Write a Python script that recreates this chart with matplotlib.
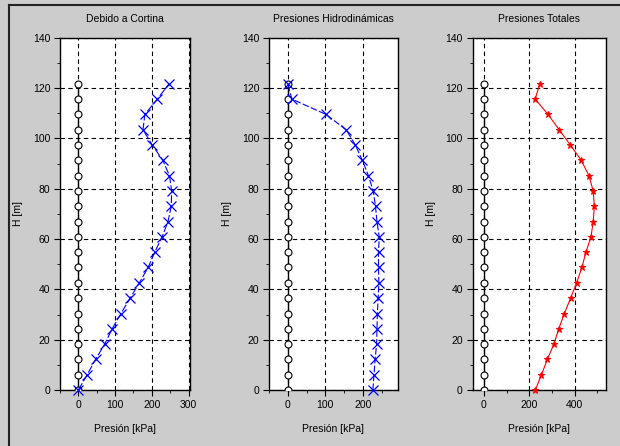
import matplotlib
matplotlib.use("Agg")
import matplotlib.pyplot as plt
from matplotlib.lines import Line2D
from matplotlib.ticker import MultipleLocator

plt.rcParams['font.family'] = ['Liberation Sans', 'DejaVu Sans']

# alturas de los nodos [m]
alturas = [0, 6.1, 12.2, 18.3, 24.3, 30.4, 36.5, 42.6, 48.7, 54.8, 60.8,
           66.9, 73.0, 79.1, 85.2, 91.3, 97.4, 103.4, 109.5, 115.6, 121.7]
# presiones [kPa]
p_cortina = [0, 24, 47, 72, 92, 116, 141, 166, 190, 208, 228,
             244, 253, 254, 248, 230, 201, 176, 181, 215, 247]
p_hidro = [227, 230, 233, 237, 238, 239, 241, 243, 242, 242, 244,
           238, 234, 228, 215, 199, 180, 156, 102, 11, 0]
p_total = [a + b for a, b in zip(p_cortina, p_hidro)]
cortina_x = [0] * len(alturas)

titulos = ["Debido a Cortina", "Presiones Hidrodinámicas", "Presiones Totales"]
xticks = [[0, 100, 200, 300], [0, 100, 200], [0, 200, 400]]
xminor = [50, 50, 100]

fig = plt.figure(figsize=(6.2, 4.46), dpi=100, facecolor='#cccccc')
W, H = 620.0, 446.0

# marco de la figura (solo arriba e izquierda quedan visibles)
fig.add_artist(Line2D([9 / W, 1], [1 - 5 / H, 1 - 5 / H], color='#222222', lw=1.5))
fig.add_artist(Line2D([9 / W, 9 / W], [0, 1 - 5 / H], color='#222222', lw=1.5))

bottom = 1 - 390 / H
height = (390 - 37.7) / H
lefts = [60, 269, 472.5]
rights = [190, 398, 605.7]

series = [
    dict(x=p_cortina, color='#0000ff', ls=(0, (7, 2)), marker='x', ms=6.5, lw=0.8, mew=0.9),
    dict(x=p_hidro, color='#0000ff', ls=(0, (6, 2)), marker='x', ms=6.5, lw=0.8, mew=0.9),
    dict(x=p_total, color='#ff0000', ls='-', marker='*', ms=4.5, lw=0.8, mew=0.8),
]

for i in range(3):
    ax = fig.add_axes([lefts[i] / W, bottom, (rights[i] - lefts[i]) / W, height])
    s = series[i]
    ax.plot(cortina_x, alturas, color='black', lw=1.0, marker='o', ms=5,
            mfc='white', mec='black', mew=0.8, zorder=3)
    ax.plot(s['x'], alturas, color=s['color'], ls=s['ls'], lw=s['lw'],
            marker=s['marker'], ms=s['ms'], mew=s['mew'], zorder=4, clip_on=False)
    ax.set_xlim(-50, max(s['x']) + 50)
    ax.set_ylim(0, 140)
    ax.set_xticks(xticks[i])
    ax.xaxis.set_minor_locator(MultipleLocator(xminor[i]))
    ax.set_yticks(range(0, 141, 20))
    ax.yaxis.set_minor_locator(MultipleLocator(10))
    ax.grid(True, which='major', color='black', ls=(0, (4, 3)), lw=0.8)
    ax.tick_params(which='major', direction='out', length=4, width=0.8,
                   labelsize=7.5, pad=3)
    ax.tick_params(which='minor', direction='out', length=2, width=0.6)
    for sp in ax.spines.values():
        sp.set_linewidth(1.0)
    ax.set_title(titulos[i], fontsize=7.5, pad=11)
    ax.set_xlabel("Presión [kPa]", fontsize=7.5, labelpad=10)
    ax.set_ylabel("H [m]", fontsize=7.5, labelpad=7)

fig.savefig("out.png", dpi=100, facecolor=fig.get_facecolor())
